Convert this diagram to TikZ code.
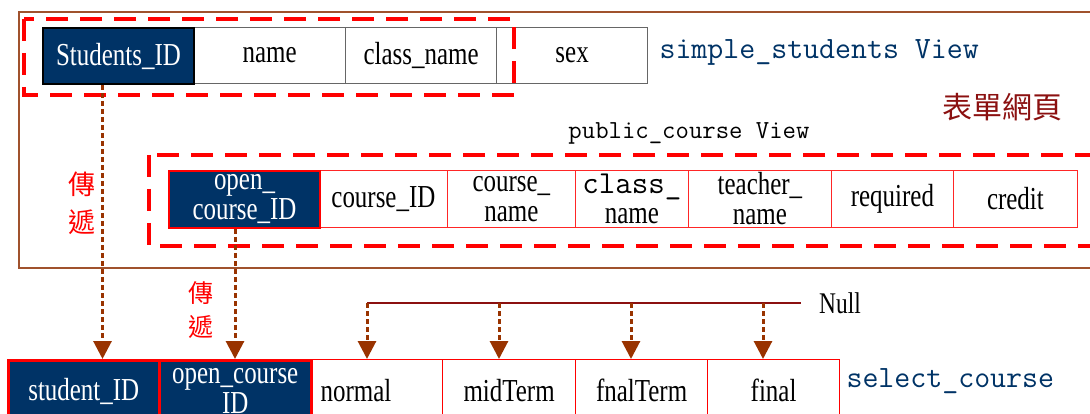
\documentclass[tikz,border=0pt]{standalone}
\usepackage{fontspec}
\setmainfont[FakeStretch=0.78]{Liberation Serif}
\newfontfamily\cjk{Noto Sans CJK TC}
\usetikzlibrary{arrows.meta}
\definecolor{navy}{HTML}{003366}
\definecolor{mbrown}{HTML}{993300}
\definecolor{fbrown}{HTML}{A0522D}
\definecolor{dred}{HTML}{8B1010}
\newcommand{\cf}{\fontsize{32}{30}\selectfont}
\newcommand{\tf}[1]{{\ttfamily #1}}
\tikzstyle{cell}=[rectangle, draw=black!60, line width=1.2, minimum height=56, inner sep=0pt, anchor=north west, font=\cf]
\tikzstyle{key}=[fill=navy, text=white]
\tikzstyle{pc}=[cell, draw=red!85, line width=0.8, minimum height=57]
\tikzstyle{sc}=[cell, draw=red, line width=1.2, minimum height=62]
\tikzstyle{box}=[draw=red, line width=3.5, dash pattern=on 22pt off 12pt]
\tikzstyle{pass}=[color=mbrown, line width=3, dash pattern=on 5pt off 3pt, -{Triangle[width=18pt,length=18pt]}]
\tikzstyle{l1}=[line width=2]
\tikzstyle{tag}=[text=red, align=center, inner sep=0pt]
\tikzstyle{title}=[anchor=west, text=navy, font=\ttfamily\fontsize{31}{31}\selectfont]

\begin{document}
\begin{tikzpicture}[x=1pt, y=-1pt]
    \useasboundingbox (0,0) rectangle (1090,414);
    \clip (0,0) rectangle (1090,414);
    \draw[color=fbrown, line width=1.5] (19,12) rectangle (1110,268);

    \node (s2) [cell, minimum width=152] at (193,27) {name};
    \node (s3) [cell, minimum width=151] at (345,27) {class\_name};
    \node (s4) [cell, minimum width=151] at (496,27) {sex};
    \node (s1) [cell, key, draw=black, line width=2, minimum width=151] at (42,27) {Students\_ID};
    \draw[box] (24,19) rectangle (514,95);
    \node (v1) [title] at (656,52) {simple\_students View};
    \node (v2) [anchor=east, text=dred, font=\cjk\fontsize{30}{30}\selectfont] at (1066,107) {表單網頁};
    \node (v3) [font=\ttfamily\fontsize{26}{26}\selectfont] at (689,133) {public\_course View};

    \node (p2) [pc, minimum width=128] at (319,170) {course\_ID};
    \node (p3) [pc, minimum width=128, align=center] at (447,170) {course\_\\name};
    \node (p4) [pc, minimum width=113, align=center] at (575,170) {\tf{class\_}\\name};
    \node (p5) [pc, minimum width=143, align=center] at (688,170) {teacher\_\\name};
    \node (p6) [pc, minimum width=122] at (831,170) {required};
    \node (p7) [pc, minimum width=124] at (953,170) {credit};
    \node (p1) [pc, key, draw=red, line width=2, minimum width=151, align=center] at (168,170) {open\_\\course\_ID};
    \draw[box] (149,155) rectangle (1110,246);

    \node (c3) [sc, minimum width=132, text width=112, inner xsep=10, align=left] at (310,359) {normal};
    \node (c4) [sc, minimum width=133] at (442,359) {midTerm};
    \node (c5) [sc, minimum width=132] at (575,359) {fnalTerm};
    \node (c6) [sc, minimum width=132] at (707,359) {final};
    \node (c1) [sc, key, line width=2.5, minimum width=151] at (7,359) {student\_ID};
    \node (c2) [sc, key, line width=2.5, minimum width=152, align=center] at (158,359) {open\_course\\ID};
    \node (v4) [title] at (843,381) {select\_course};

    \node (t1) [tag, font=\cjk\fontsize{27}{38}\selectfont] at (82,203) {傳\\遞};
    \node (t2) [tag, font=\cjk\fontsize{25}{34}\selectfont] at (201,310) {傳\\遞};
    \draw[pass] ([xshift=-16]s1.south) -- ([xshift=-16]s1.south |- c1.north);
    \draw[pass] ([xshift=-9.5]p1.south) -- ([xshift=-9.5]p1.south |- c2.north);

    \node (nl) [anchor=west, inner sep=0pt, font=\fontsize{30}{30}\selectfont] at (819,303) {Null};
    \coordinate (n0) at (801,303);
    \coordinate (n1) at (367,303);
    \coordinate (n2) at (499,303);
    \coordinate (n3) at (631,303);
    \coordinate (n4) at (763,303);
    \draw[l1, color=dred] (n1) -- (n0);
    \draw[pass] (n1) -- (n1 |- c3.north);
    \draw[pass] (n2) -- (n2 |- c4.north);
    \draw[pass] (n3) -- (n3 |- c5.north);
    \draw[pass] (n4) -- (n4 |- c6.north);
\end{tikzpicture}
\end{document}
